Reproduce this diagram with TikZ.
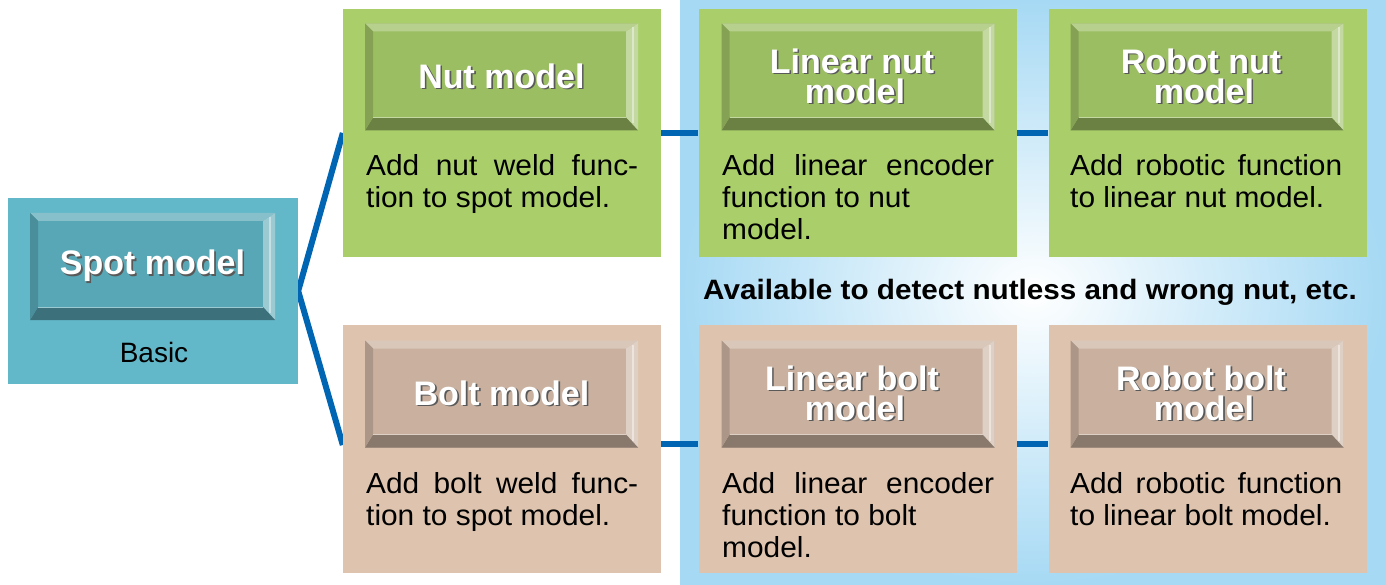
\documentclass[tikz,border=0pt]{standalone}
\usepackage{fontspec}
\setmainfont{Liberation Sans}
\newfontfamily\capfont{Liberation Sans}[FakeStretch=1.06]
\newfontfamily\descfont{Liberation Sans}[FakeStretch=1.03]
\usetikzlibrary{positioning,calc,backgrounds}

\definecolor{bgblue}{RGB}{166,217,244}
\definecolor{linkblue}{RGB}{0,102,179}
\definecolor{spotpanel}{RGB}{98,184,201}
\definecolor{spotface}{RGB}{88,167,182}
\definecolor{nutpanel}{RGB}{170,207,106}
\definecolor{nutface}{RGB}{156,190,98}
\definecolor{boltpanel}{RGB}{222,196,174}
\definecolor{boltface}{RGB}{202,177,159}

\newcommand\shtext[1]{\leavevmode\rlap{\kern1.6pt\raisebox{-1.6pt}{\color{black!65}#1}}#1}
\newcommand\spreadline[1]{\makebox[272pt][s]{#1}}

\tikzset{
  panel/.style={rectangle, fill=#1, inner sep=0pt, minimum width=318pt, minimum height=248pt},
  knob/.style={rectangle, fill=#1, inner sep=0pt, minimum width=273pt, minimum height=107pt,
    text=white, align=center, font=\fontsize{34}{30}\selectfont\bfseries,
    path picture={
      \path (path picture bounding box.north west) coordinate (kA)
            (path picture bounding box.north east) coordinate (kB)
            (path picture bounding box.south east) coordinate (kC)
            (path picture bounding box.south west) coordinate (kD);
      \fill[#1!72!white] (kA) -- (kB) -- ($(kB)+(-12,8)$) -- ($(kA)+(8,8)$) -- cycle;
      \fill[#1!60!white] (kB) -- (kC) -- ($(kC)+(-12,-13)$) -- ($(kB)+(-12,8)$) -- cycle;
      \fill[#1!68!black] (kC) -- (kD) -- ($(kD)+(8,-13)$) -- ($(kC)+(-12,-13)$) -- cycle;
      \fill[#1!85!black] (kD) -- (kA) -- ($(kA)+(8,8)$) -- ($(kD)+(8,-13)$) -- cycle;
      \draw[#1!35!white, line width=2pt] ($(kB)+(-5,4)$) -- ($(kC)+(-5,-7)$);
      \draw[#1!60!white, line width=1pt] ($(kD)+(8,-13)$) -- ($(kC)+(-12,-13)$);
    }},
  desc/.style={anchor=north west, inner sep=0pt, align=left, font=\fontsize{29}{32}\descfont},
  link/.style={line width=6pt, linkblue}
}

\begin{document}
\begin{tikzpicture}[x=1pt, y=-1pt]
  \useasboundingbox (0,0) rectangle (1386,585);

  % Basic model
  \node[panel=spotpanel, minimum width=290pt, minimum height=186pt] (spot) at (153,291) {};
  \node[knob=spotface, minimum width=245pt] (spotknob) at (152.5,266.5) {\shtext{Spot model}};
  \node[font=\fontsize{28}{32}\selectfont] (basic) at (154,352) {Basic};

  % Nut models
  \node[panel=nutpanel] (nut) at (502,133) {};
  \node[knob=nutface] (nutknob) at (501.5,77) {\shtext{Nut model}};
  \node[desc] (nutdesc) at (366,154) {\spreadline{Add nut weld func-}\\tion to spot model.};

  \node[panel=nutpanel] (linnut) at (857.5,133) {};
  \node[knob=nutface] (linnutknob) at (858,77) {\shtext{Linear nut}\kern12pt\\\shtext{model}\kern6pt};
  \node[desc] (linnutdesc) at (722,154) {\spreadline{Add linear encoder}\\function to nut\\model.};

  \node[panel=nutpanel] (robnut) at (1207.5,133) {};
  \node[knob=nutface] (robnutknob) at (1207,77) {\shtext{Robot nut}\kern12pt\\\shtext{model}\kern6pt};
  \node[desc] (robnutdesc) at (1070,154) {\spreadline{Add robotic function}\\to linear nut model.};

  % Bolt models
  \node[panel=boltpanel] (bolt) at (502,449) {};
  \node[knob=boltface] (boltknob) at (501.5,394) {\shtext{Bolt model}};
  \node[desc] (boltdesc) at (366,472) {\spreadline{Add bolt weld func-}\\tion to spot model.};

  \node[panel=boltpanel] (linbolt) at (857.5,449) {};
  \node[knob=boltface] (linboltknob) at (858,394) {\shtext{Linear bolt}\kern12pt\\\shtext{model}\kern6pt};
  \node[desc] (linboltdesc) at (722,472) {\spreadline{Add linear encoder}\\function to bolt\\model.};

  \node[panel=boltpanel] (robbolt) at (1207.5,449) {};
  \node[knob=boltface] (robboltknob) at (1207,394) {\shtext{Robot bolt}\kern12pt\\\shtext{model}\kern6pt};
  \node[desc] (robboltdesc) at (1070,472) {\spreadline{Add robotic function}\\to linear bolt model.};

  \node[font=\fontsize{28}{32}\capfont\bfseries] (note) at (1030,292) {Available to detect nutless and wrong nut, etc.};

  % Background and links
  \begin{pgfonlayer}{background}
    \shade[inner color=white, outer color=bgblue] (680,0) rectangle (1386,585);
    \draw[link] (nut.west) -- (spot.east) -- ([yshift=4pt]bolt.west);
    \draw[link] (nut.east) -- (linnut.west);
    \draw[link] (linnut.east) -- (robnut.west);
    \draw[link] ([yshift=5pt]bolt.east) -- ([yshift=5pt]linbolt.west);
    \draw[link] ([yshift=5pt]linbolt.east) -- ([yshift=5pt]robbolt.west);
  \end{pgfonlayer}
\end{tikzpicture}
\end{document}
